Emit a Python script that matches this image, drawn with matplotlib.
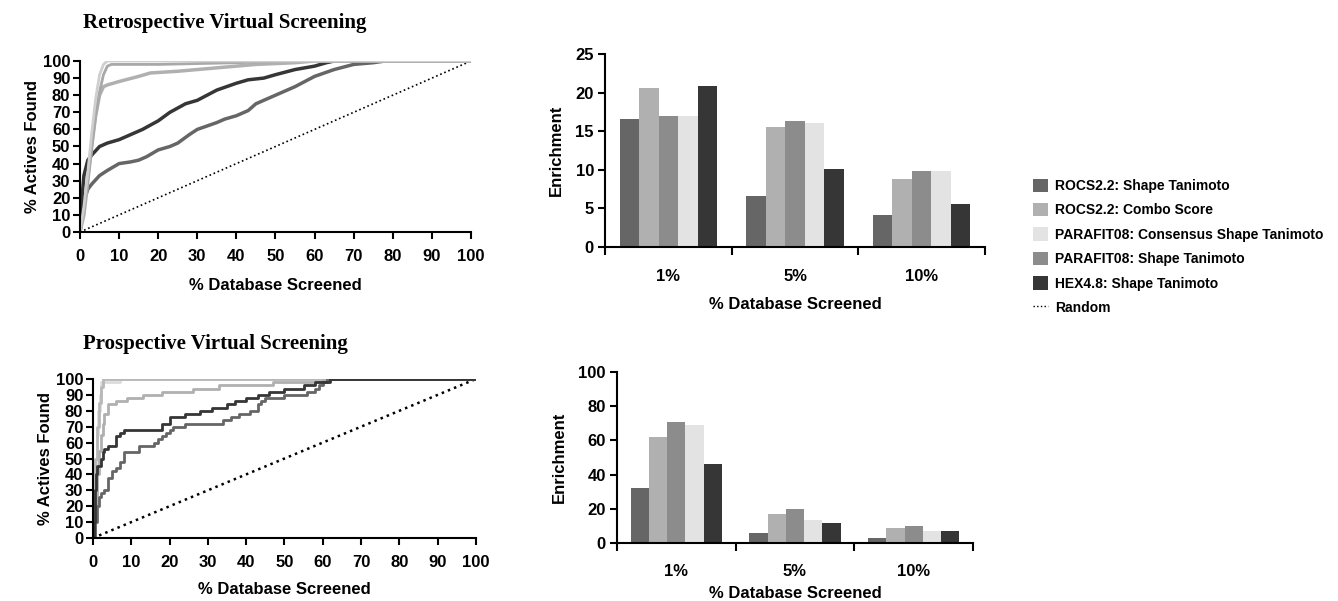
import matplotlib
matplotlib.use("Agg")
import matplotlib.pyplot as plt
from matplotlib.patches import Patch
from matplotlib.lines import Line2D
import numpy as np

plt.rcParams['font.family'] = ['Liberation Sans', 'DejaVu Sans']
plt.rcParams['font.weight'] = 'bold'

# ---------------- data ----------------
series_names = ["ROCS2.2: Shape Tanimoto", "ROCS2.2: Combo Score",
                "PARAFIT08: Shape Tanimoto", "PARAFIT08: Consensus Shape Tanimoto",
                "HEX4.8: Shape Tanimoto"]
series_colors = ["#666666", "#b0b0b0", "#8c8c8c", "#e3e3e3", "#363636"]
categories = ["1%", "5%", "10%"]

retro_enrich = [
    [16.6, 6.6, 4.2],    # ROCS shape
    [20.6, 15.6, 8.8],   # ROCS combo
    [17.0, 16.3, 9.9],   # PARAFIT shape
    [17.0, 16.1, 9.8],   # PARAFIT consensus
    [20.9, 10.1, 5.6],   # HEX
]
prosp_enrich = [
    [32, 6, 3],
    [62, 17, 9],
    [70.5, 20, 10],
    [69, 13.5, 7],
    [46, 11.5, 6.8],
]

# retrospective ROC curves (x = % database, y = % actives)
retro_rocs_x = [0, 0.5, 1, 2, 3, 5, 7, 10, 13, 15, 17, 20, 23, 25, 28, 30, 35, 37, 40, 43, 45, 50, 55, 60, 65, 70, 75, 78, 100]
retro_rocs_y = [0, 10, 18, 25, 28, 33, 36, 40, 41, 42, 44, 48, 50, 52, 57, 60, 64, 66, 68, 71, 75, 80, 85, 91, 95, 98, 99, 100, 100]
retro_combo_x = [0, 1, 2, 3, 4, 5, 6, 7, 10, 15, 18, 25, 35, 45, 55, 60, 100]
retro_combo_y = [0, 10, 30, 50, 68, 80, 85, 86, 88, 91, 93, 94, 96, 98, 99, 100, 100]
retro_pshape_x = [0, 1, 2, 3, 4, 5, 6, 7, 8, 20, 40, 55, 100]
retro_pshape_y = [0, 12, 30, 50, 68, 82, 92, 97, 98, 98, 99, 100, 100]
retro_pcons_x = [0, 1, 2, 3, 4, 5, 6, 7, 100]
retro_pcons_y = [0, 15, 35, 58, 78, 92, 98, 100, 100]
retro_hex_x = [0, 0.5, 1, 2, 3, 5, 7, 10, 13, 16, 20, 23, 27, 30, 35, 40, 43, 47, 50, 55, 60, 63, 65, 100]
retro_hex_y = [0, 20, 33, 42, 45, 50, 52, 54, 57, 60, 65, 70, 75, 77, 83, 87, 89, 90, 92, 95, 97, 99, 100, 100]

# prospective ROC curves (step curves)
pro_rocs_x = [0, 0.5, 1, 1.5, 2, 3, 4, 5, 6, 7, 8, 12, 16, 17, 18, 19, 20, 21, 24, 34, 36, 38, 41, 43, 44, 45, 50, 56, 58, 59, 60, 61, 100]
pro_rocs_y = [0, 10, 20, 26, 28, 30, 38, 42, 44, 48, 54, 58, 60, 62, 64, 66, 68, 70, 72, 74, 76, 78, 80, 84, 86, 88, 90, 92, 94, 96, 98, 100, 100]
pro_combo_x = [0, 0.5, 1, 1.5, 2, 2.5, 3, 4, 6, 9, 13, 18, 26, 33, 47, 60, 100]
pro_combo_y = [0, 20, 40, 55, 65, 72, 78, 84, 86, 88, 90, 92, 94, 96, 98, 100, 100]
pro_pshape_x = [0, 0.3, 0.6, 1, 1.5, 2, 2.5, 100]
pro_pshape_y = [0, 25, 50, 70, 85, 95, 100, 100]
pro_pcons_x = [0, 0.3, 0.6, 1, 1.3, 1.7, 2, 7, 100]
pro_pcons_y = [0, 20, 45, 65, 80, 90, 98, 100, 100]
pro_hex_x = [0, 0.2, 0.4, 0.6, 0.8, 1, 2, 2.5, 3, 4, 6, 7, 8, 18, 20, 24, 28, 31, 35, 37, 40, 43, 46, 50, 55, 58, 62, 100]
pro_hex_y = [0, 10, 20, 30, 40, 45, 50, 54, 56, 58, 64, 66, 68, 72, 76, 78, 80, 82, 84, 86, 88, 90, 92, 94, 96, 98, 100, 100]

random_x = [0, 100]
random_y = [0, 100]

# ---------------- figure ----------------
fig = plt.figure(figsize=(13.38, 6.01), dpi=100)

tick_fs = 12
lab_fs = 12
title_font = dict(family=['Liberation Serif', 'DejaVu Serif'], weight='bold', size=15)

def style_roc(ax, labelpad):
    for s in ['top', 'right']:
        ax.spines[s].set_visible(False)
    for s in ['left', 'bottom']:
        ax.spines[s].set_linewidth(1.5)
    ax.set_xlim(0, 100)
    ax.set_ylim(0, 100)
    ax.set_xticks(np.arange(0, 101, 10))
    ax.set_yticks(np.arange(0, 101, 10))
    ax.tick_params(direction='out', length=5, width=1.5, labelsize=tick_fs)
    ax.tick_params(axis='x', pad=7)
    ax.tick_params(axis='y', pad=2)
    ax.set_xlabel("% Database Screened", fontsize=lab_fs, fontweight='bold', labelpad=labelpad)
    ax.set_ylabel("% Actives Found", fontsize=lab_fs, fontweight='bold', labelpad=2)

# Retrospective ROC
ax1 = fig.add_axes([0.0598, 0.614, 0.2922, 0.2845])
style_roc(ax1, 10)
ax1.plot(random_x, random_y, ':', color='black', lw=1.2)
ax1.plot(retro_rocs_x, retro_rocs_y, color=series_colors[0], lw=2.5)
ax1.plot(retro_hex_x, retro_hex_y, color=series_colors[4], lw=2.5)
ax1.plot(retro_combo_x, retro_combo_y, color=series_colors[1], lw=2.5)
ax1.plot(retro_pshape_x, retro_pshape_y, color='#a8a8a8', lw=2.0)
ax1.plot(retro_pcons_x, retro_pcons_y, color='#cfcfcf', lw=2.0)
for s in ax1.spines.values():
    s.set_zorder(5)
fig.text(0.062, 0.962, "Retrospective Virtual Screening", ha='left', va='center', **title_font)

# Prospective ROC
ax2 = fig.add_axes([0.0695, 0.1048, 0.2862, 0.2646])
style_roc(ax2, 9)
ax2.plot(random_x, random_y, ':', color='black', lw=1.8)
ax2.step(pro_pcons_x, pro_pcons_y, where='post', color='#dcdcdc', lw=2.0)
ax2.step(pro_pshape_x, pro_pshape_y, where='post', color='#b8b8b8', lw=2.0)
ax2.step(pro_combo_x, pro_combo_y, where='post', color=series_colors[1], lw=2.0)
ax2.step(pro_rocs_x, pro_rocs_y, where='post', color=series_colors[0], lw=2.0)
ax2.step(pro_hex_x, pro_hex_y, where='post', color=series_colors[4], lw=2.0)
fig.text(0.062, 0.428, "Prospective Virtual Screening", ha='left', va='center', **title_font)

def bar_axes(ax, data, ymax, ystep, pad, labelpad):
    n = len(data)
    w = 0.154
    x = np.arange(len(categories))
    for i, (vals, c) in enumerate(zip(data, series_colors)):
        ax.bar(x + (i - (n - 1) / 2) * w, vals, width=w, color=c, edgecolor='none')
    for s in ['top', 'right']:
        ax.spines[s].set_visible(False)
    for s in ['left', 'bottom']:
        ax.spines[s].set_linewidth(1.5)
    ax.set_xlim(-0.5, len(categories) - 0.5)
    ax.set_ylim(0, ymax)
    ax.set_yticks(np.arange(0, ymax + 0.1, ystep))
    ax.set_xticks(np.arange(-0.5, len(categories)), labels=[""] * (len(categories) + 1))
    ax.set_xticks(x, labels=categories, minor=True)
    ax.tick_params(axis='x', which='major', direction='out', length=6, width=1.5)
    ax.tick_params(axis='x', which='minor', length=0, pad=pad, labelsize=tick_fs)
    ax.tick_params(axis='y', direction='out', length=5, width=1.5, labelsize=tick_fs, pad=3)
    ax.set_xlabel("% Database Screened", fontsize=lab_fs, fontweight='bold', labelpad=labelpad)
    ax.set_ylabel("Enrichment", fontsize=lab_fs, fontweight='bold', labelpad=8)

ax3 = fig.add_axes([0.4522, 0.589, 0.284, 0.3211])
bar_axes(ax3, retro_enrich, 25, 5, 16, 9)

ax4 = fig.add_axes([0.4611, 0.0965, 0.2661, 0.2845])
bar_axes(ax4, prosp_enrich, 100, 20, 15, 5)

# legend
legend_order = [0, 1, 3, 2, 4]
handles = [Patch(facecolor=series_colors[i], edgecolor='none') for i in legend_order]
labels = [series_names[i] for i in legend_order]
handles.append(Line2D([0], [0], color='black', ls=':', lw=1.0))
labels.append("Random")
fig.legend(handles, labels, loc='upper left', bbox_to_anchor=(0.768, 0.712),
           frameon=False, fontsize=10, handlelength=1.1, handleheight=1.1,
           handletextpad=0.5, labelspacing=0.72, borderaxespad=0)

fig.savefig("out.png", dpi=100, facecolor='white')
